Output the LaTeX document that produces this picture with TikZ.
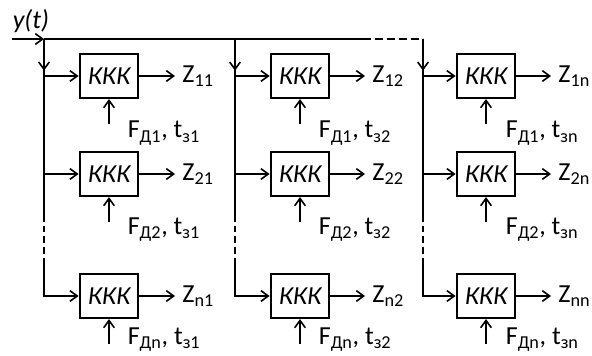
\documentclass[tikz,border=0pt]{standalone}
\usepackage{fontspec}
\setmainfont{Carlito}
\usetikzlibrary{arrows.meta}

\begin{document}
\begin{tikzpicture}[x=0.75pt, y=-0.75pt, line width=1.2pt,
		>={Straight Barb[length=5.5pt,width=8pt]},
		font=\fontsize{19.5}{22}\selectfont]
		
		% Define custom styles
		\tikzstyle{kkk} = [rectangle, draw, line width=1.6pt, minimum width=44pt,
		minimum height=33pt, font=\fontsize{19.5}{22}\selectfont\itshape]
		\tikzstyle{outlabel} = [anchor=west, inner sep=5pt]
		\tikzstyle{parlabel} = [anchor=base west, inner sep=0pt]
		
		\useasboundingbox (0,0) rectangle (592,356);
		
		% Input line and column taps
		\node[anchor=base west, inner sep=0pt] (ylabel) at (12,29) {\textit{y(t)}};
		\coordinate (yin) at (12,39);
		\coordinate (top1) at (44,39);
		\coordinate (top2) at (235,39);
		\coordinate (top3) at (423,39);
		\coordinate (gap) at (363,39);
		\coordinate (cut1) at (44,215);
		\coordinate (cut1b) at (44,260);
		\coordinate (cut2) at (235,215);
		\coordinate (cut2b) at (235,260);
		\coordinate (cut3) at (423,215);
		\coordinate (cut3b) at (423,260);
		
		% Converters, column 1
		\node[kkk] (kkk11) at (109,76) {ККК};
		\node[kkk] (kkk21) at (109,174) {ККК};
		\node[kkk] (kkkn1) at (109,296) {ККК};
		% Converters, column 2
		\node[kkk] (kkk12) at (300,76) {ККК};
		\node[kkk] (kkk22) at (300,174) {ККК};
		\node[kkk] (kkkn2) at (300,296) {ККК};
		% Converters, column n
		\node[kkk] (kkk1n) at (486,76) {ККК};
		\node[kkk] (kkk2n) at (486,174) {ККК};
		\node[kkk] (kkknn) at (486,296) {ККК};
		
		% Outputs
		\node[outlabel] (z11) at (175,76) {Z\textsubscript{11}};
		\node[outlabel] (z21) at (175,174) {Z\textsubscript{21}};
		\node[outlabel] (zn1) at (175,296) {Z\textsubscript{n1}};
		\node[outlabel] (z12) at (365,76) {Z\textsubscript{12}};
		\node[outlabel] (z22) at (365,174) {Z\textsubscript{22}};
		\node[outlabel] (zn2) at (365,296) {Z\textsubscript{n2}};
		\node[outlabel] (z1n) at (551,76) {Z\textsubscript{1n}};
		\node[outlabel] (z2n) at (551,174) {Z\textsubscript{2n}};
		\node[outlabel] (znn) at (551,296) {Z\textsubscript{nn}};
		
		% Parameters
		\node[parlabel] (f11) at (127,138) {F\textsubscript{Д1}, t\textsubscript{з1}};
		\node[parlabel] (f21) at (127,234) {F\textsubscript{Д2}, t\textsubscript{з1}};
		\node[parlabel] (fn1) at (127,344) {F\textsubscript{Дn}, t\textsubscript{з1}};
		\node[parlabel] (f12) at (318,138) {F\textsubscript{Д1}, t\textsubscript{з2}};
		\node[parlabel] (f22) at (318,234) {F\textsubscript{Д2}, t\textsubscript{з2}};
		\node[parlabel] (fn2) at (318,344) {F\textsubscript{Дn}, t\textsubscript{з2}};
		\node[parlabel] (f1n) at (505,138) {F\textsubscript{Д1}, t\textsubscript{зn}};
		\node[parlabel] (f2n) at (505,234) {F\textsubscript{Д2}, t\textsubscript{зn}};
		\node[parlabel] (fnn) at (505,344) {F\textsubscript{Дn}, t\textsubscript{зn}};
		
		% Input bus
		\draw[->] (yin) -- (top1);
		\draw (top1) -- (gap);
		\draw[dash pattern=on 6pt off 3pt] (gap) -- (top3);
		
		% Column 1
		\draw[->, shorten >=4pt] (top1) -- (top1 |- kkk11);
		\draw[->] (top1) |- (kkk11);
		\draw[->] (top1) |- (kkk21);
		\draw (top1 |- kkk21) -- (cut1);
		\draw[dash pattern=on 5pt off 3pt] (cut1) -- (cut1b);
		\draw[->] (cut1b) |- (kkkn1);
		% Column 2
		\draw[->, shorten >=4pt] (top2) -- (top2 |- kkk12);
		\draw[->] (top2) |- (kkk12);
		\draw[->] (top2) |- (kkk22);
		\draw (top2 |- kkk22) -- (cut2);
		\draw[dash pattern=on 5pt off 3pt] (cut2) -- (cut2b);
		\draw[->] (cut2b) |- (kkkn2);
		% Column n
		\draw[->, shorten >=4pt] (top3) -- (top3 |- kkk1n);
		\draw[->] (top3) |- (kkk1n);
		\draw[->] (top3) |- (kkk2n);
		\draw (top3 |- kkk2n) -- (cut3);
		\draw[dash pattern=on 5pt off 3pt] (cut3) -- (cut3b);
		\draw[->] (cut3b) |- (kkknn);
		
		% Outputs and parameter inputs
		\draw[->] (kkk11) -- (z11);
		\draw[->] (kkk21) -- (z21);
		\draw[->] (kkkn1) -- (zn1);
		\draw[->] (kkk12) -- (z12);
		\draw[->] (kkk22) -- (z22);
		\draw[->] (kkkn2) -- (zn2);
		\draw[->] (kkk1n) -- (z1n);
		\draw[->] (kkk2n) -- (z2n);
		\draw[->] (kkknn) -- (znn);
		\draw[<-] (kkk11.south) -- ++(0,25);
		\draw[<-] (kkk21.south) -- ++(0,25);
		\draw[<-] (kkkn1.south) -- ++(0,25);
		\draw[<-] (kkk12.south) -- ++(0,25);
		\draw[<-] (kkk22.south) -- ++(0,25);
		\draw[<-] (kkkn2.south) -- ++(0,25);
		\draw[<-] (kkk1n.south) -- ++(0,25);
		\draw[<-] (kkk2n.south) -- ++(0,25);
		\draw[<-] (kkknn.south) -- ++(0,25);
		
	\end{tikzpicture}
\end{document}
